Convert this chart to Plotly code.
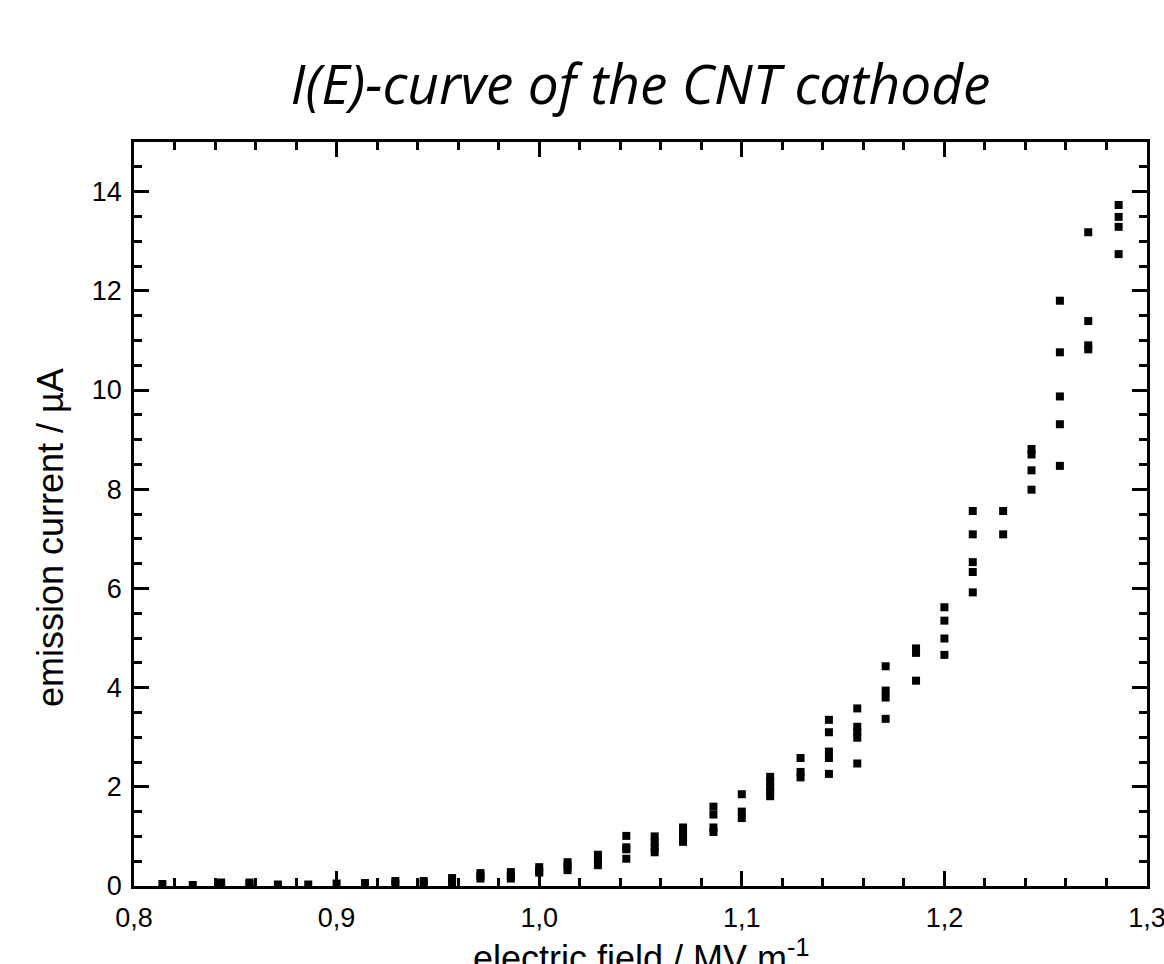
import plotly.graph_objects as go

# electric field columns (MV/m)
field_columns = [0.814, 0.829, 0.843, 0.857, 0.871, 0.886, 0.900, 0.914, 0.929, 0.943,
                 0.957, 0.971, 0.986, 1.000, 1.014, 1.029, 1.043, 1.057, 1.071, 1.086,
                 1.100, 1.114, 1.129, 1.143, 1.157, 1.171, 1.186, 1.200, 1.214, 1.229,
                 1.243, 1.257, 1.271, 1.286]

# emission current values (µA) measured at each field column
current_by_column = [
    [0.04],
    [0.02],
    [0.07, 0.03],
    [0.07, 0.04],
    [0.03],
    [0.03],
    [0.05],
    [0.06],
    [0.10, 0.05],
    [0.10, 0.06],
    [0.16, 0.08],
    [0.26, 0.20, 0.15],
    [0.28, 0.20, 0.15],
    [0.38, 0.30, 0.27],
    [0.48, 0.40, 0.32],
    [0.63, 0.52, 0.42],
    [1.01, 0.78, 0.74, 0.55],
    [1.00, 0.88, 0.78, 0.68],
    [1.18, 1.08, 0.98, 0.89],
    [1.60, 1.44, 1.18, 1.09],
    [1.85, 1.50, 1.37],
    [2.20, 2.10, 2.00, 1.90, 1.81],
    [2.58, 2.30, 2.19],
    [3.35, 3.10, 2.71, 2.58, 2.26],
    [3.58, 3.21, 3.10, 2.99, 2.47],
    [4.43, 3.94, 3.80, 3.37],
    [4.79, 4.70, 4.14],
    [5.62, 5.35, 4.99, 4.66],
    [7.56, 7.09, 6.53, 6.33, 5.92],
    [7.56, 7.09],
    [8.81, 8.70, 8.38, 7.99],
    [11.80, 10.76, 9.87, 9.31, 8.47],
    [13.18, 11.39, 10.90, 10.82],
    [13.73, 13.49, 13.29, 12.74],
]

x_ticks = [0.8, 0.9, 1.0, 1.1, 1.2, 1.3]
y_ticks = [0, 2, 4, 6, 8, 10, 12, 14]

title_text = "I(E)-curve of the CNT cathode"
x_title = "electric field / MV m<sup>-1</sup>"
y_title = "emission current / µA"

xs, ys = [], []
for e, vals in zip(field_columns, current_by_column):
    for v in vals:
        xs.append(e)
        ys.append(v)

W, H = 1164, 964
L, R, T, B = 134, 17, 142, 78
plot_w = W - L - R
plot_h = H - T - B

fig = go.Figure()
fig.add_trace(go.Scatter(
    x=xs, y=ys, mode="markers",
    marker=dict(symbol="square", size=8, color="black", line=dict(width=0)),
    showlegend=False,
))

axis_font = dict(family="Arial, Liberation Sans, sans-serif", size=27, color="black")

fig.update_layout(
    width=W, height=H,
    margin=dict(l=L, r=R, t=T, b=B, pad=0, autoexpand=False),
    paper_bgcolor="white", plot_bgcolor="white",
    separators=",.",
    title=dict(text=title_text, x=0.5, xref="paper", xanchor="center",
               y=1 - 85 / H, yref="container", yanchor="middle",
               font=dict(family="Open Sans, Lato, sans-serif", size=55, color="black",
                         style="italic")),
    xaxis=dict(range=[0.8, 1.3], tickvals=x_ticks, tickformat=".1f",
               showgrid=False, zeroline=False, automargin=False,
               showline=True, linecolor="black", linewidth=2.5, mirror="ticks",
               ticks="inside", ticklen=15, tickwidth=2.5, tickcolor="black",
               minor=dict(ticks="inside", ticklen=8, tickwidth=2.5, tickcolor="black",
                          dtick=0.02, showgrid=False),
               tickfont=axis_font, ticklabelstandoff=6, ticklabeloverflow="allow"),
    yaxis=dict(range=[0, 15], tickvals=y_ticks,
               showgrid=False, zeroline=False, automargin=False,
               showline=True, linecolor="black", linewidth=2.5, mirror="ticks",
               ticks="inside", ticklen=15, tickwidth=2.5, tickcolor="black",
               minor=dict(ticks="inside", ticklen=8, tickwidth=2.5, tickcolor="black",
                          dtick=0.5, showgrid=False),
               tickfont=axis_font, ticklabelstandoff=4),
    annotations=[
        dict(text=y_title, xref="paper", yref="paper",
             x=(50 - L) / plot_w, y=(H - B - 538) / plot_h,
             xanchor="center", yanchor="middle", textangle=-90, showarrow=False,
             font=dict(family="Arial, Liberation Sans, sans-serif", size=36, color="black")),
        dict(text=x_title, xref="paper", yref="paper",
             x=0.5, y=(H - B - 956) / plot_h,
             xanchor="center", yanchor="middle", showarrow=False,
             font=dict(family="Arial, Liberation Sans, sans-serif", size=36, color="black")),
    ],
)

fig.write_html("out.html", config={"displayModeBar": False},
               post_script="document.body.style.margin='0';document.body.style.overflow='hidden';")
